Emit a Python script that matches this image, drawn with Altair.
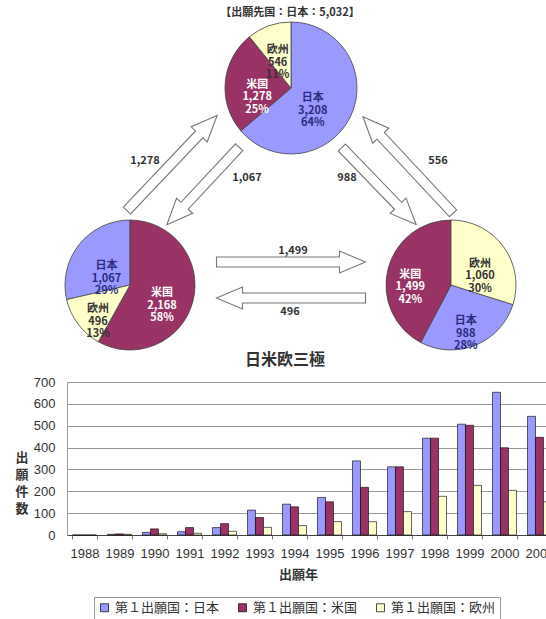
import altair as alt
import pandas as pd

FONT_JP = "Noto Sans CJK JP"
FONT_NUM = "Liberation Sans"

# ---------------- data ----------------
regions = ["日本", "米国", "欧州"]
colors = ["#9999FF", "#993366", "#FFFFCC"]
label_colors = ["#2B2B80", "#FFFFFF", "#333333"]

top_title = "【出願先国：日本：5,032】"
bar_title = "日米欧三極"

# pies: applications by first-filing region, for each destination
pie_jp_vals = [3208, 1278, 546]    # destination: Japan (日本, 米国, 欧州)
pie_us_vals = [1067, 2168, 496]    # destination: US
pie_eu_vals = [988, 1499, 1060]    # destination: Europe
# clockwise slice order from 12 o'clock
pie_jp_order = ["日本", "米国", "欧州"]
pie_us_order = ["米国", "欧州", "日本"]
pie_eu_order = ["欧州", "日本", "米国"]

flow_labels = ["1,278", "1,067", "988", "556", "1,499", "496"]

years = list(range(1988, 2002))
jp_counts = [0, 3, 12, 15, 34, 114, 141, 172, 339, 312, 443, 507, 653, 543]
us_counts = [0, 5, 28, 34, 52, 80, 129, 152, 218, 312, 443, 502, 399, 447]
eu_counts = [0, 3, 6, 8, 17, 35, 43, 61, 61, 107, 177, 227, 204, 152]
y_ticks = [0, 100, 200, 300, 400, 500, 600, 700]

legend_prefix = "第１出願国："

# ---------------- pies ----------------
def pie_layers(vals, order, cx, cy, r, text_radii):
    total = sum(vals)
    df = pd.DataFrame({
        "region": regions,
        "value": vals,
        "ord": [order.index(g) for g in regions],
        "label": [f"{g}\n{v:,}\n{round(v * 100 / total)}%" for g, v in zip(regions, vals)],
    })
    base = alt.Chart(df).encode(
        theta=alt.Theta("value:Q", stack=True),
        order=alt.Order("ord:Q"),
        x=alt.value(cx),
        y=alt.value(cy),
    )
    out = [base.mark_arc(radius=r, stroke="#444444", strokeWidth=0.8).encode(
        color=alt.Color("region:N", scale=alt.Scale(domain=regions, range=colors), legend=None)
    )]
    for g, tr in zip(regions, text_radii):
        out.append(
            base.mark_text(radius=tr, font=FONT_JP, fontSize=11, fontWeight="bold",
                           lineBreak="\n", lineHeight=12.5).encode(
                text=alt.condition(alt.datum.region == g, alt.Text("label:N"), alt.value("")),
                color=alt.Color("region:N", scale=alt.Scale(domain=regions, range=label_colors),
                                legend=None),
            )
        )
    return out


# ---------------- arrows ----------------
def arrow_path(L, shaft=10.0, head_w=22.0, head_len=26.0):
    h = L / 2.0
    s = shaft / 2.0 / h
    w = head_w / 2.0 / h
    hx = 1 - head_len / h
    return (f"M-1,{-s:.4f}L{hx:.4f},{-s:.4f}L{hx:.4f},{-w:.4f}L1,0"
            f"L{hx:.4f},{w:.4f}L{hx:.4f},{s:.4f}L-1,{s:.4f}Z")

# (center x, center y, length, angle, label x, label y)
arrow_geom = [
    (172, 163, 131, 313.5, 145, 161),
    (203, 186, 106, 133, 247, 178),
    (379, 186, 107, 46, 347, 178),
    (408, 165, 132, 227, 438, 161),
    (291, 262, 149, 0, 293, 251),
    (291, 298, 149, 180, 290, 312),
]

layers = []
# text radii per slice in order (日本, 米国, 欧州)
layers += pie_layers(pie_jp_vals, pie_jp_order, 291, 88, 66, [24, 34, 40])
layers += pie_layers(pie_us_vals, pie_us_order, 130, 285, 65, [30, 33, 40])
layers += pie_layers(pie_eu_vals, pie_eu_order, 451, 285, 65, [39, 42, 36])

for lab, (mx, my, L, ang, lx, ly) in zip(flow_labels, arrow_geom):
    fdf = pd.DataFrame({"flow": [lab]})
    layers.append(
        alt.Chart(fdf).mark_point(shape=arrow_path(L), size=L * L, angle=ang, filled=True,
                                  fill="white", stroke="#777777", strokeWidth=1.1, opacity=1)
        .encode(x=alt.value(mx), y=alt.value(my))
    )
    layers.append(
        alt.Chart(fdf).mark_text(font=FONT_JP, fontSize=11, fontWeight="bold", color="#333333")
        .encode(text="flow:N", x=alt.value(lx), y=alt.value(ly))
    )

# titles
layers.append(
    alt.Chart(pd.DataFrame({"t": [top_title]})).mark_text(
        font=FONT_JP, fontSize=11, fontWeight="bold", color="#333333")
    .encode(text="t:N", x=alt.value(290), y=alt.value(13))
)
layers.append(
    alt.Chart(pd.DataFrame({"t": [bar_title]})).mark_text(
        font=FONT_JP, fontSize=16, fontWeight="bold", color="#333333")
    .encode(text="t:N", x=alt.value(285), y=alt.value(360))
)
layers.append(
    alt.Chart(pd.DataFrame({"t": ["出\n願\n件\n数"]})).mark_text(
        font=FONT_JP, fontSize=13, fontWeight="bold", color="#333333", lineBreak="\n", lineHeight=17)
    .encode(text="t:N", x=alt.value(22), y=alt.value(458))
)

# ---------------- bar chart ----------------
bar_df = pd.DataFrame({
    "year": years * 3,
    "region": [r for r in regions for _ in years],
    "value": jp_counts + us_counts + eu_counts,
})

bars = alt.Chart(bar_df).mark_bar(stroke="black", strokeWidth=0.6).encode(
    x=alt.X("year:O",
            scale=alt.Scale(domain=years, range=[67, 557], paddingInner=0.314, paddingOuter=0.157),
            axis=alt.Axis(orient="bottom", offset=-84, title="出願年", labelAngle=0,
                          labelFont=FONT_NUM, labelFontSize=13, labelColor="#333333",
                          labelPadding=8, ticks=True, tickBand="extent", tickSize=4,
                          tickColor="#777777", domainColor="#444444", domainWidth=1,
                          titleFont=FONT_JP, titleFontSize=13, titleFontWeight="bold",
                          titleColor="#333333", titleX=298, titleY=39, titleBaseline="middle",
                          titleAnchor="middle", titleAlign="center", grid=False)),
    xOffset=alt.XOffset("region:N", sort=regions,
                        scale=alt.Scale(domain=regions, paddingInner=0, paddingOuter=0)),
    y=alt.Y("value:Q",
            scale=alt.Scale(domain=[0, 700], range=[535, 382], nice=False, zero=True),
            axis=alt.Axis(orient="left", offset=-67, values=y_ticks, title=None, grid=True,
                          gridColor="#999999", gridWidth=1, ticks=False, tickSize=0,
                          labelFont=FONT_NUM, labelFontSize=13, labelColor="#333333",
                          labelPadding=12, domainColor="#999999")),
    color=alt.Color("region:N", scale=alt.Scale(domain=regions, range=colors),
                    legend=alt.Legend(orient="none", legendX=94, legendY=597, direction="horizontal",
                                      title=None, symbolType="square", symbolSize=64,
                                      symbolStrokeColor="black", symbolStrokeWidth=0.7,
                                      labelFont=FONT_JP, labelFontSize=13, labelColor="#333333",
                                      labelExpr=f"'{legend_prefix}' + datum.label",
                                      columnPadding=16, labelOffset=4, padding=4,
                                      strokeColor="#999999", fillColor="white")),
)
layers.append(bars)

chart = (
    alt.layer(*layers)
    .resolve_scale(theta="independent", color="independent")
    .properties(width=546, height=619, autosize=alt.AutoSizeParams(type="none"),
                padding=0, background="white")
    .configure_view(stroke=None)
)

chart.save("out.html", embed_options={"renderer": "svg", "actions": False})
